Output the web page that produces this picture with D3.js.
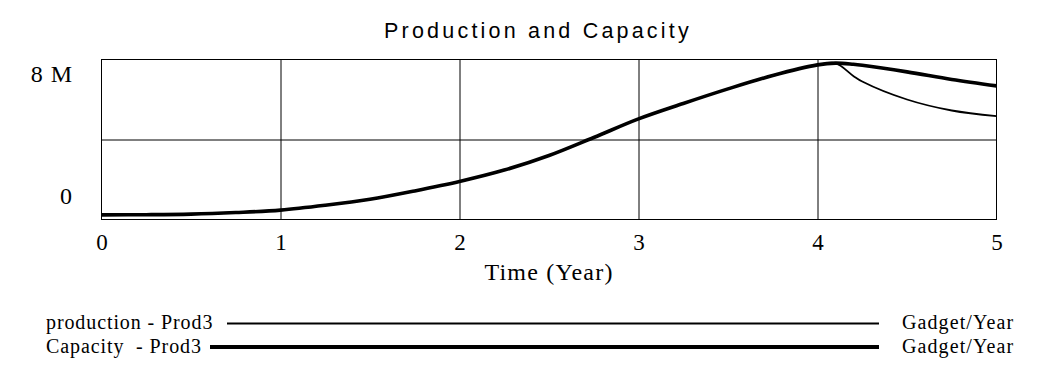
<!DOCTYPE html>
<html>
<head>
<meta charset="utf-8">
<script src="https://cdn.jsdelivr.net/npm/d3@7"></script>
<style>
  body { margin: 0; background: #fff; }
  svg { display: block; }
  text { white-space: pre; }
</style>
</head>
<body>
<svg id="chart" width="1056" height="384"></svg>
<script>
// ---- data ----
const time       = [0, 0.25, 0.5, 0.75, 1, 1.25, 1.5, 1.75, 2, 2.25, 2.5, 2.75, 3, 3.25, 3.5, 3.75, 4, 4.1, 4.2, 4.25, 4.5, 4.75, 5];
const capacity   = [0.23, 0.24, 0.27, 0.35, 0.47, 0.71, 1.01, 1.43, 1.9, 2.47, 3.2, 4.1, 5.03, 5.8, 6.53, 7.2, 7.73, 7.82, 7.76, 7.71, 7.38, 7.0, 6.68];
const production = [0.23, 0.24, 0.27, 0.35, 0.47, 0.71, 1.01, 1.43, 1.9, 2.47, 3.2, 4.1, 5.03, 5.8, 6.53, 7.2, 7.73, 7.82, 7.18, 6.9, 6.0, 5.45, 5.17];
const xTicks = [0, 1, 2, 3, 4, 5];
const yGrid = [4];
const yLabels = [{v: 8, text: "8 M"}, {v: 0, text: "0"}];
const title = "Production and Capacity";
const xTitle = "Time (Year)";
const legend = [
  {name: "production - Prod3", unit: "Gadget/Year", width: 2},
  {name: "Capacity  - Prod3", unit: "Gadget/Year", width: 4}
];

// ---- layout ----
const svg = d3.select("#chart");
const L = 101.5, R = 996.5, T = 59.5, B = 219.5;
const x = d3.scaleLinear().domain([0, 5]).range([L, R]);
const y = d3.scaleLinear().domain([0, 8]).range([B, T]);
const serif = "'Liberation Serif','Times New Roman',serif";
const sans = "'Liberation Sans',Arial,sans-serif";

// title
svg.append("text")
  .attr("x", 538).attr("y", 38)
  .attr("text-anchor", "middle")
  .attr("font-family", sans).attr("font-size", 21.5)
  .attr("letter-spacing", 3.2)
  .attr("fill", "#000")
  .text(title);

// x axis with vertical grid lines
const xAxis = svg.append("g")
  .attr("transform", `translate(0,${B})`)
  .call(d3.axisBottom(x).tickValues(xTicks).tickFormat(d3.format("d"))
        .tickSize(-(B - T)).tickPadding(14));
xAxis.select(".domain").remove();
xAxis.selectAll("line").attr("stroke", "#000").attr("stroke-width", 1);
xAxis.selectAll("text").attr("font-family", serif).attr("font-size", 23).attr("fill", "#000");
xAxis.selectAll(".tick").filter(d => d === 0 || d === 5).select("line").remove();

// y grid
const yAxis = svg.append("g")
  .attr("transform", `translate(${L},0)`)
  .call(d3.axisLeft(y).tickValues(yGrid).tickFormat("").tickSize(-(R - L)));
yAxis.select(".domain").remove();
yAxis.selectAll("line").attr("stroke", "#000").attr("stroke-width", 1);

// y labels (top label below top edge, bottom label above bottom edge)
svg.selectAll(".ylab").data(yLabels).enter().append("text")
  .attr("class", "ylab")
  .attr("x", 73)
  .attr("y", d => d.v === 8 ? y(d.v) + 22.5 : y(d.v) - 15.5)
  .attr("text-anchor", "end")
  .attr("font-family", serif).attr("font-size", 24)
  .attr("letter-spacing", 1)
  .attr("fill", "#000")
  .text(d => d.text);

// frame
svg.append("rect")
  .attr("x", L).attr("y", T).attr("width", R - L).attr("height", B - T)
  .attr("fill", "none").attr("stroke", "#000").attr("stroke-width", 1);

// x title
svg.append("text")
  .attr("x", 549).attr("y", 279.5)
  .attr("text-anchor", "middle")
  .attr("font-family", serif).attr("font-size", 24)
  .attr("letter-spacing", 1.2)
  .attr("fill", "#000")
  .text(xTitle);

// lines
const line = d3.line().x((d, i) => x(time[i])).y(d => y(d)).curve(d3.curveCatmullRom.alpha(0.5));
svg.append("path").datum(production)
  .attr("d", line).attr("fill", "none").attr("stroke", "#000").attr("stroke-width", 1.8);
svg.append("path").datum(capacity)
  .attr("d", line).attr("fill", "none").attr("stroke", "#000").attr("stroke-width", 3.6);

// legend
const legY = [323.5, 347];
const legLineStart = [227, 210];
legend.forEach((d, i) => {
  svg.append("text")
    .attr("x", 46).attr("y", legY[i] + 5.5)
    .attr("font-family", serif).attr("font-size", 20)
    .attr("letter-spacing", 0.9)
    .attr("fill", "#000")
    .text(d.name);
  svg.append("line")
    .attr("x1", legLineStart[i]).attr("x2", 879)
    .attr("y1", legY[i]).attr("y2", legY[i])
    .attr("stroke", "#000").attr("stroke-width", d.width);
  svg.append("text")
    .attr("x", 902).attr("y", legY[i] + 5.5)
    .attr("font-family", serif).attr("font-size", 20)
    .attr("letter-spacing", 1.1)
    .attr("fill", "#000")
    .text(d.unit);
});
</script>
</body>
</html>
